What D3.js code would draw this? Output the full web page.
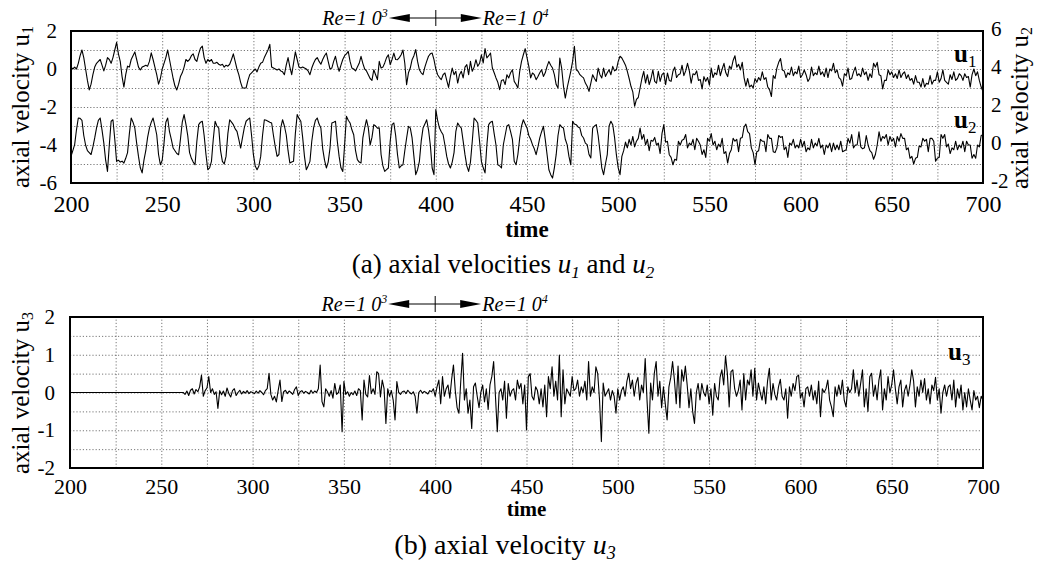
<!DOCTYPE html>
<html>
<head>
<meta charset="utf-8">
<script src="https://cdn.jsdelivr.net/npm/d3@7"></script>
<style>
  body { margin: 0; background: #fff; }
  svg text { font-family: "Liberation Serif", "Times New Roman", Times, "DejaVu Serif", serif; fill: #000; }
  .grid line { stroke: #555; stroke-width: 0.8; stroke-dasharray: 1.2, 2; }
  .grid path { display: none; }
</style>
</head>
<body>
<div id="chart"></div>
<script>
var width = 1037, height = 570;
var serifFont = "'Liberation Serif', 'Times New Roman', Times, 'DejaVu Serif', serif";

// time axis: one sample per time unit from 200 to 700
var tStart = 200, tStep = 1;
var timeTicks = [200, 250, 300, 350, 400, 450, 500, 550, 600, 650, 700];
var u1Ticks = [2, 0, -2, -4, -6];
var u2Ticks = [6, 4, 2, 0, -2];
var u3Ticks = [2, 1, 0, -1, -2];
var reSwitch = 400;

// axial velocity u1 (left axis, upper panel)
var u1 = [
  0.1, 0.0, 0.1, 0.0, 0.3, 0.7, 1.0, 0.6, 0.0, -0.6,
  -1.1, -0.8, -0.3, 0.1, 0.3, 0.4, 0.5, 0.2, -0.1, 0.2,
  0.6, 0.5, 0.3, 0.6, 1.0, 1.4, 0.8, 0.4, -0.4, -0.95,
  -0.3, 0.15, 0.1, 0.5, 0.7, 0.9, 0.5, 0.1, -0.05, 0.1,
  0.15, 0.2, 0.15, 0.4, 0.85, 0.5, 0.1, -0.3, -0.8, -0.5,
  0.0, 0.3, 0.6, 1.0, 0.5, 0.0, -0.5, -0.9, -1.1, -0.8,
  -0.4, -0.2, 0.1, 0.5, 0.4, 0.5, 0.7, 0.8, 0.5, 0.4,
  0.8, 1.1, 1.2, 0.6, 0.3, 0.5, 0.4, 0.5, 0.3, 0.3,
  0.35, 0.25, 0.2, 0.25, 0.1, 0.2, 0.15, 0.25, 0.5, 0.8,
  0.4, 0.0, -0.3, -0.7, -1.0, -1.0, -1.0, -0.6, -0.3, -0.2,
  -0.1, 0.0, -0.15, 0.1, 0.3, 0.35, 0.6, 0.8, 1.0, 1.3,
  0.1, 0.05, 0.0, -0.05, 0.0, -0.1, -0.15, -0.3, 0.2, 0.6,
  0.1, -0.3, 0.3, 0.9, 0.5, 0.1, 0.05, 0.1, 0.05, 0.0,
  -0.1, -0.3, 0.05, 0.3, 0.5, 0.6, 0.4, 0.25, 0.5, 0.7,
  0.84, 0.4, 0.0, 0.05, 0.4, 0.67, 0.2, -0.12, 0.2, 0.5,
  0.7, 0.8, 0.93, 0.4, 0.05, 0.0, -0.1, 0.1, 0.3, 0.67,
  0.3, 0.0, -0.1, -0.3, -0.5, -0.6, -0.04, -0.3, -0.56, 0.4,
  0.05, 0.1, 0.32, 0.6, 0.75, 0.23, 0.5, 0.84, 0.5, 0.49,
  0.6, 0.75, 1.0, 0.3, -0.82, -0.2, 0.05, 0.49, 0.7, 1.02,
  0.4, -0.04, -0.2, -0.3, 0.1, 0.4, 0.67, 0.8, 0.84, 0.49,
  0.0, -0.3, -0.45, -0.56, -0.3, -0.21, -0.6, -0.97, -0.4, 0.05,
  -0.3, -0.12, -0.74, -0.3, -0.12, -0.47, 0.1, 0.23, -0.3, 0.4,
  -0.12, 0.1, 0.49, 0.14, 0.3, 0.75, 0.32, 1.07, 0.58, 0.7,
  0.84, 0.05, -0.2, -0.47, -0.7, -1.09, -0.6, -0.56, -0.82, -0.3,
  -0.47, -0.2, -0.04, -0.65, -0.8, -1.0, -0.12, 0.4, 0.75, 1.07,
  0.6, 0.14, -0.47, -0.21, -0.3, -0.56, -0.39, -0.2, -0.04, -0.39,
  -0.2, 0.14, 0.4, 0.2, 0.05, -0.3, -0.82, -1.0, 0.58, 0.05,
  -0.91, -1.53, -1.0, -0.56, -0.12, 0.4, 1.19, -0.04, -0.12, -0.3,
  -0.39, -0.47, -0.74, -0.91, -1.18, -0.74, -0.3, -0.5, -0.65, 0.05,
  -0.3, -0.47, 0.05, -0.39, -0.2, -0.04, -0.3, 0.14, -0.1, -0.04,
  0.4, 0.67, 0.58, 0.4, 0.2, -0.12, -0.5, -0.91, -1.2, -1.96,
  -1.6, -1.5, -1.0, -0.5, -0.12, -0.74, -0.3, -0.82, -0.5, -0.04,
  -0.65, -0.74, -0.12, -0.65, -0.3, -0.2, -0.82, -0.21, -0.6, -0.65,
  -0.12, 0.1, -0.45, -0.3, -0.25, 0.2, -0.35, -0.1, 0.3, -0.1,
  -0.75, -0.25, -0.3, -0.1, -0.6, -0.55, -1.05, -0.4, -0.65, -0.45,
  -0.85, 0.05, -0.45, -0.2, -0.3, 0.2, -0.35, 0.0, 0.3, -0.2,
  -0.4, 0.15, 0.0, 0.45, 0.7, 0.1, 0.25, -0.05, 0.35, -0.45,
  -0.9, -0.5, -0.95, -0.85, -1.0, -0.5, -0.7, -0.45, -0.6, -0.15,
  -0.55, -0.45, -0.95, -1.1, -1.45, -0.35, -0.5, 0.05, 0.35, 0.55,
  -0.05, -0.1, -0.45, -0.2, -0.3, 0.1, -0.35, -0.15, -0.25, 0.15,
  -0.45, -0.3, -0.05, -0.3, -0.65, -0.5, 0.1, -0.35, -0.2, -0.3,
  0.15, -0.3, -0.15, -0.4, 0.05, -0.45, 0.0, -0.1, 0.3, -0.2,
  -0.05, -0.45, -0.55, -0.9, -0.25, -0.35, 0.05, -0.55, -0.5, -0.15,
  0.1, -0.35, -0.25, -0.4, 0.05, -0.3, -0.15, -0.6, -0.25, -0.45,
  0.3, 0.1, 0.35, -0.3, -0.35, -1.05, -0.6, -0.6, -0.05, -0.3,
  -0.15, -0.45, -0.25, -0.5, -0.05, -0.45, -0.25, -0.15, -0.5, -0.3,
  -0.6, -0.5, -0.8, -0.35, -0.7, -0.7, -0.95, -0.5, -0.95, -0.75,
  -0.8, -0.35, -0.8, -0.6, -0.6, -0.15, -0.7, -0.5, -0.05, -0.6,
  -0.7, -0.8, -0.3, -0.55, -0.15, -0.6, -0.5, -0.25, -0.35, -0.6,
  -0.25, -0.45, -0.4, -0.95, -0.3, 0.0, -0.35, -0.15, -0.6, -0.95,
  -1.18
];

// axial velocity u2 (right axis, upper panel)
var u2 = [
  -0.6, -0.3, 0.02, 0.8, 1.42, 1.4, 1.3, 0.5, 0.0, -0.3,
  -0.4, -0.5, -0.1, 0.37, 0.9, 1.3, 1.42, 0.8, 0.1, -0.8,
  -1.39, 0.0, 1.25, 1.33, 0.3, -0.86, -0.8, -0.9, -0.85, -0.95,
  -0.7, -0.4, 0.6, 1.42, 1.2, 0.89, 0.1, -0.6, -1.2, -1.47,
  -0.8, -0.3, 0.4, 0.89, 1.2, 1.42, 1.0, 0.54, -0.5, -1.04,
  -0.8, 0.1, 1.2, 1.42, 0.7, 0.3, -0.16, -0.3, -0.45, -0.51,
  0.3, 1.2, 1.6, 1.1, 0.5, -0.4, -0.7, -0.9, -1.04, 0.2,
  1.07, 1.2, 1.25, 0.5, -0.5, -1.3, -1.2, -0.86, 0.3, 1.25,
  1.0, 0.89, -0.3, -0.86, -1.0, -0.6, 0.6, 1.33, 1.2, 1.07,
  0.85, 0.72, 0.3, -0.16, 0.37, 0.9, 1.25, 1.35, 1.42, 0.5,
  -0.51, -1.1, -1.3, -1.1, -0.6, 0.5, 1.33, 1.3, 1.25, 1.2,
  1.16, 0.5, -0.1, -0.6, -0.5, 0.9, 1.33, 1.0, 0.54, -0.3,
  -0.95, -0.9, -0.86, 0.6, 1.6, 1.4, 1.25, 0.4, -0.6, -1.3,
  -1.1, -0.86, 0.2, 0.9, 1.3, 1.42, 1.1, 0.89, -0.2, -0.8,
  -1.21, -0.9, -0.16, 1.16, 1.2, 1.25, 0.2, -0.6, -1.2, -1.39,
  0.0, 1.51, 1.3, 1.16, 0.8, 0.54, -0.3, -0.77, -0.9, -0.95,
  0.37, 0.9, 1.33, 0.9, 0.0, 0.4, 1.07, 1.0, 0.89, 0.9,
  -0.5, -1.1, -1.39, -1.3, -1.21, 0.2, 1.07, 1.16, 0.5, -0.5,
  -1.21, -1.1, -1.04, -0.3, 0.37, 0.98, 0.9, 0.37, -0.6, -1.56,
  -1.3, -0.86, 0.2, 0.89, 1.1, 1.33, 0.8, 0.0, -1.21, -1.56,
  1.86, 1.3, 0.89, 0.7, 0.54, 0.0, -0.6, -1.0, -1.21, -0.9,
  -0.4, 0.72, 1.16, 1.0, 0.89, 0.2, -0.51, -1.1, -1.39, -0.9,
  0.2, 1.42, 1.3, 1.16, 0.2, -0.86, -1.2, -1.47, 0.0, 1.07,
  1.2, 1.25, 0.6, 0.0, -1.04, -1.1, -1.21, 0.0, 0.5, 1.0,
  1.07, 0.7, 0.3, -0.86, -1.04, -0.5, 0.37, 1.0, 1.33, 1.1,
  0.9, 0.5, 0.3, 0.02, -0.2, -0.51, -0.1, 0.37, 0.7, 0.98,
  0.3, -0.5, -1.3, -1.56, -1.74, -1.2, -0.51, 0.5, 1.07, 0.95,
  0.89, 0.3, 0.02, -0.6, -1.04, 1.25, 1.1, 1.07, 0.95, 0.89,
  0.5, 0.37, 0.1, 0.02, -0.5, -0.68, 0.89, 1.0, 1.07, 0.5,
  -0.33, -1.2, -1.56, -1.0, -0.51, 1.0, 1.25, 1.07, 0.4, -0.51,
  -1.2, -1.56, -0.6, -0.3, 0.15, -0.15, 0.3, 0.0, 0.45, -0.1,
  0.2, 0.35, 0.89, 0.3, 0.55, 0.0, 0.3, -0.3, 0.25, 0.2,
  0.4, 0.0, 0.1, -0.45, 0.6, 1.07, 0.15, 0.2, -0.51, -0.65,
  -1.04, -0.75, -0.8, 0.2, 0.0, 0.25, 0.3, 0.55, -0.15, 0.1,
  0.0, 0.3, -0.25, 0.35, 0.2, 0.0, -0.5, -0.25, -0.65, 0.35,
  0.2, 0.6, 0.0, 0.2, -0.25, 0.05, -0.1, 0.35, -0.45, -0.35,
  -0.95, -0.45, -0.25, 0.35, 0.2, 0.3, -0.35, 0.35, 0.4, 0.95,
  1.1, 0.7, 0.6, -0.15, -0.4, -1.04, -0.35, -0.3, 0.3, 0.2,
  0.2, -0.35, 0.55, 0.35, 0.35, -0.35, -0.4, -0.15, 0.5, 0.4,
  0.45, -0.25, -0.1, -0.65, 0.1, 0.0, 0.3, -0.15, 0.0, -0.15,
  0.3, -0.1, 0.2, -0.35, -0.15, -0.25, 0.3, -0.15, 0.1, -0.05,
  0.35, -0.15, 0.0, -0.5, 0.0, -0.15, 0.1, -0.35, 0.1, -0.25,
  0.0, -0.25, 0.2, -0.35, -0.3, -0.25, 0.35, 0.1, 0.55, -0.15,
  0.0, 0.0, 0.7, -0.1, -0.2, -0.15, 0.5, 0.0, -0.3, -0.4,
  -0.75, -0.5, 0.0, 0.7, 0.2, 0.45, 0.35, 0.55, 0.0, 0.45,
  0.2, 0.35, -0.1, 0.45, 0.2, 0.6, 0.35, 0.35, -0.25, -0.15,
  -0.7, -0.6, -1.0, -0.7, -0.65, -0.05, -0.1, 0.35, 0.2, 0.3,
  -0.35, 0.35, 0.35, 0.2, -0.85, -0.7, -0.65, 0.55, 0.35, 0.55,
  -0.1, 0.05, -0.45, -0.15, -0.25, 0.2, -0.25, 0.0, -0.15, 0.2,
  -0.35, 0.2, 0.0, 0.0, -0.7, -0.5, -0.7, 0.0, -0.1, 0.5,
  0.54
];

// axial velocity u3 (lower panel)
var u3 = [
  0, 0, 0, 0, 0, 0, 0, 0, 0, 0,
  0, 0, 0, 0, 0, 0, 0, 0, 0, 0,
  0, 0, 0, 0, 0, 0, 0, 0, 0, 0,
  0, 0, 0, 0, 0, 0, 0, 0, 0, 0,
  0, 0, 0, 0, 0, 0, 0, 0, 0, 0,
  0, 0, 0, 0, 0, 0, 0, 0, 0, 0,
  0, 0, 0.0, -0.05, 0.04, -0.08, 0.06, 0.1, -0.04, 0.08,
  0.02, 0.15, 0.46, -0.1, 0.05, 0.12, 0.42, 0.0, 0.1, -0.05,
  0.02, -0.42, 0.05, -0.06, 0.04, -0.1, 0.12, -0.03, -0.12, 0.05,
  0.1, -0.08, 0.0, 0.06, -0.04, 0.03, -0.02, 0.05, -0.03, 0.02,
  0.0, -0.03, 0.04, -0.02, 0.05, 0.0, -0.06, 0.05, 0.1, 0.51,
  -0.05, -0.2, -0.1, -0.25, 0.05, 0.33, -0.24, 0.02, 0.06, -0.03,
  0.04, 0.0, -0.05, 0.08, 0.15, -0.08, 0.02, 0.05, -0.02, 0.03,
  0.0, -0.04, 0.06, -0.02, 0.04, 0.0, 0.1, 0.73, -0.24, -0.38,
  0.1, 0.02, -0.1, 0.05, -0.15, 0.24, -0.05, 0.0, 0.2, -1.04,
  0.29, -0.05, 0.02, -0.1, 0.0, -0.06, 0.04, -0.08, 0.1, 0.05,
  -0.73, 0.33, -0.05, -0.12, 0.45, -0.03, 0.1, -0.05, 0.55, 0.5,
  -0.12, 0.33, 0.1, -0.82, 0.1, -0.1, 0.05, -0.2, -0.73, 0.29,
  0.0, -0.05, 0.02, 0.04, -0.03, 0.06, 0.0, -0.04, 0.02, -0.1,
  -0.55, 0.0, 0.06, -0.02, 0.03, 0.0, -0.04, 0.05, 0.02, 0.1,
  -0.1, 0.15, 0.33, -0.3, 0.42, -0.1, 0.1, 0.2, -0.15, 0.35,
  0.73, 0.05, -0.4, -0.55, 0.3, 1.04, -0.2, 0.1, -0.55, -0.2,
  -0.95, 0.15, 0.25, -0.1, -0.4, 0.0, 0.2, -0.25, 0.1, -0.45,
  0.2, 0.42, 0.82, -0.1, -1.04, 0.0, 0.1, -0.2, 0.3, -0.68,
  0.24, -0.1, 0.05, 0.1, -0.2, 0.33, 0.1, 0.24, -0.3, 0.2,
  -0.99, 0.42, 0.5, -0.1, -0.2, 0.15, 0.05, -0.3, 0.1, -0.38,
  0.2, -0.64, 0.42, 0.1, 0.68, -0.1, 0.3, -0.2, 0.99, -0.64,
  0.6, -0.3, 0.1, 0.0, -0.1, 0.42, 0.05, 0.1, 0.33, -0.1,
  0.15, 0.0, 0.3, -0.2, 0.82, -0.1, 0.15, 0.0, 0.68, 0.5,
  -0.2, -1.3, 0.25, -0.1, 0.0, 0.1, -0.2, 0.05, -0.1, -0.55,
  0.1, -0.2, 0.05, 0.15, -0.1, 0.3, 0.51, 0.1, 0.33, -0.1,
  0.25, 0.4, -0.2, 0.2, 0.0, 0.9, -0.2, -1.08, 0.25, -0.2,
  0.51, 0.82, -0.1, 0.3, -0.4, 0.15, -0.3, -0.73, 0.15, 0.4,
  0.82, 0.33, -0.3, 0.7, -0.4, 0.6, 0.3, 0.7, 0.2, -0.4,
  0.1, -0.5, -0.82, 0.0, 0.24, -0.2, 0.24, 0.0, -0.1, 0.2,
  -0.3, 0.1, -0.6, 0.24, -0.1, -0.2, 0.4, 0.6, 0.2, 0.97,
  0.5, -0.38, 0.55, 0.6, 0.1, -0.1, 0.05, 0.33, -0.46, 0.5,
  -0.2, 0.33, 0.2, 0.6, -0.1, 0.64, -0.2, 0.25, 0.0, -0.2,
  0.15, -0.3, 0.3, 0.64, -0.2, 0.24, -0.05, -0.2, 0.15, 0.35,
  -0.1, -0.2, 0.1, -0.68, 0.15, -0.1, 0.24, 0.05, 0.42, 0.46,
  -0.15, 0.0, -0.38, 0.1, 0.15, -0.1, 0.2, -0.2, 0.05, -0.3,
  0.3, -0.64, 0.1, 0.0, 0.1, 0.33, -0.2, -0.38, -0.64, 0.15,
  -0.1, 0.2, -0.05, 0.33, -0.2, -0.38, 0.15, 0.0, 0.1, 0.6,
  0.0, 0.33, -0.1, 0.24, 0.6, -0.38, 0.1, -0.5, 0.42, 0.51,
  -0.1, 0.2, -0.2, 0.33, 0.6, -0.46, 0.1, -0.2, 0.42, 0.0,
  0.2, 0.6, 0.1, -0.3, 0.15, 0.33, -0.38, 0.05, 0.2, -0.1,
  0.2, 0.6, 0.3, -0.38, 0.15, -0.1, 0.33, 0.0, 0.37, -0.2,
  0.1, -0.3, 0.2, 0.05, 0.4, -0.2, 0.1, -0.55, 0.0, 0.2,
  -0.1, 0.15, 0.2, -0.2, 0.33, -0.38, 0.1, -0.15, 0.2, -0.46,
  0.0, -0.38, 0.1, -0.2, -0.46, 0.05, -0.2, -0.1, -0.4, -0.1,
  -0.2
];

var svg = d3.select("#chart").append("svg")
    .attr("width", width)
    .attr("height", height)
    .attr("font-family", serifFont);

function timeOf(i) { return tStart + i * tStep; }
function plainNum(d) { return String(d); }

// one framed panel with dotted grid, returns scales
function drawPanel(box, yDomain, yGridStep) {
  var x = d3.scaleLinear().domain([200, 700]).range([box.left, box.right]);
  var y = d3.scaleLinear().domain(yDomain).range([box.bottom, box.top]);
  var h = box.bottom - box.top, w = box.right - box.left;

  svg.append("g").attr("class", "grid")
    .attr("transform", "translate(0," + box.bottom + ")")
    .call(d3.axisBottom(x).tickValues(d3.range(225, 700, 25)).tickSize(-h).tickFormat(""));
  svg.append("g").attr("class", "grid")
    .attr("transform", "translate(" + box.left + ",0)")
    .call(d3.axisLeft(y).tickValues(d3.range(yDomain[0] + yGridStep, yDomain[1], yGridStep)).tickSize(-w).tickFormat(""));
  return { x: x, y: y };
}

function drawSeries(values, x, y, sw) {
  var line = d3.line()
    .x(function(d, i) { return x(timeOf(i)); })
    .y(function(d) { return y(d); });
  svg.append("path")
    .datum(values)
    .attr("fill", "none")
    .attr("stroke", "#000")
    .attr("stroke-width", sw)
    .attr("stroke-linejoin", "round")
    .attr("d", line);
}

function drawFrame(box) {
  svg.append("rect")
    .attr("x", box.left).attr("y", box.top)
    .attr("width", box.right - box.left).attr("height", box.bottom - box.top)
    .attr("fill", "none").attr("stroke", "#000").attr("stroke-width", 2);
}

function tickLabels(axis, transform, size) {
  var g = svg.append("g").attr("transform", transform).call(axis.tickFormat(plainNum));
  g.attr("font-family", serifFont).attr("font-size", size);
  g.select(".domain").remove();
  g.selectAll("text").attr("fill", "#000");
  return g;
}

function yLabel(xb, yc, sub) {
  var t = svg.append("text")
    .attr("transform", "translate(" + xb + "," + yc + ") rotate(-90)")
    .attr("text-anchor", "middle")
    .style("font-size", "25px")
    .text("axial velocity u");
  t.append("tspan").attr("dy", 4).style("font-size", "16px").text(sub);
}

function reAnnotation(x, yb) {
  var xs = x(reSwitch);
  var ya = yb - 7;
  var left = svg.append("text").attr("x", xs - 48).attr("y", yb)
    .attr("text-anchor", "end")
    .style("font-style", "italic").style("font-size", "20px")
    .text("Re=1 0");
  left.append("tspan").attr("dy", -8).style("font-size", "12px").text("3");

  svg.append("line").attr("x1", xs - 27).attr("x2", xs + 26)
    .attr("y1", ya).attr("y2", ya).attr("stroke", "#000").attr("stroke-width", 1);
  svg.append("line").attr("x1", xs).attr("x2", xs)
    .attr("y1", ya - 8).attr("y2", ya + 8).attr("stroke", "#000").attr("stroke-width", 1);
  svg.append("polygon")
    .attr("points", [[xs - 47, ya], [xs - 26, ya - 4], [xs - 26, ya + 4]].join(" "))
    .attr("fill", "#000");
  svg.append("polygon")
    .attr("points", [[xs + 46, ya], [xs + 25, ya - 4], [xs + 25, ya + 4]].join(" "))
    .attr("fill", "#000");

  var right = svg.append("text").attr("x", xs + 47).attr("y", yb)
    .style("font-style", "italic").style("font-size", "20px")
    .text("Re=1 0");
  right.append("tspan").attr("dy", -8).style("font-size", "12px").text("4");
}

function seriesLabel(xp, yb, sub) {
  var t = svg.append("text").attr("x", xp).attr("y", yb)
    .style("font-weight", "bold").style("font-size", "25px")
    .text("u");
  t.append("tspan").attr("dy", 5).style("font-size", "17px").style("font-weight", "normal").text(sub);
}

// ---------- panel (a) ----------
var boxA = { left: 71, right: 983, top: 31, bottom: 183 };
var pa = drawPanel(boxA, [-6, 2], 1);
var yRight = d3.scaleLinear().domain([-2, 6]).range([boxA.bottom, boxA.top]);

drawSeries(u1, pa.x, pa.y, 1.1);
drawSeries(u2, pa.x, yRight, 1.1);
drawFrame(boxA);

tickLabels(d3.axisLeft(pa.y).tickValues(u1Ticks).tickSize(0).tickPadding(14),
  "translate(" + boxA.left + ",0)", 21);
tickLabels(d3.axisRight(yRight).tickValues(u2Ticks).tickSize(0).tickPadding(8),
  "translate(" + boxA.right + ",-2)", 21);
tickLabels(d3.axisBottom(pa.x).tickValues(timeTicks).tickSize(0).tickPadding(12),
  "translate(0," + boxA.bottom + ")", 24);

svg.append("text").attr("x", pa.x(450)).attr("y", 237)
  .attr("text-anchor", "middle").style("font-weight", "bold").style("font-size", "23px")
  .text("time");

yLabel(29, 107, "1");
yLabel(1028, 108, "2");
seriesLabel(954, 62, "1");
seriesLabel(954, 128, "2");
reAnnotation(pa.x, 25);

var capA = svg.append("text").attr("x", 503).attr("y", 273)
  .attr("text-anchor", "middle").style("font-size", "27px")
  .text("(a) axial velocities ");
capA.append("tspan").style("font-style", "italic").text("u");
capA.append("tspan").attr("dy", 5).style("font-style", "italic").style("font-size", "17px").text("1");
capA.append("tspan").attr("dy", -5).text(" and ");
capA.append("tspan").style("font-style", "italic").text("u");
capA.append("tspan").attr("dy", 5).style("font-style", "italic").style("font-size", "17px").text("2");

// ---------- panel (b) ----------
var boxB = { left: 70, right: 983, top: 317, bottom: 468 };
var pb = drawPanel(boxB, [-2, 2], 0.5);
drawSeries(u3, pb.x, pb.y, 1.1);
drawFrame(boxB);

tickLabels(d3.axisLeft(pb.y).tickValues(u3Ticks).tickSize(0).tickPadding(15),
  "translate(" + boxB.left + ",0)", 21);
tickLabels(d3.axisBottom(pb.x).tickValues(timeTicks).tickSize(0).tickPadding(10),
  "translate(0," + boxB.bottom + ")", 22);

svg.append("text").attr("x", pb.x(450)).attr("y", 516)
  .attr("text-anchor", "middle").style("font-weight", "bold").style("font-size", "21px")
  .text("time");

yLabel(29, 393, "3");
seriesLabel(948, 360, "3");
reAnnotation(pb.x, 311);

var capB = svg.append("text").attr("x", 505).attr("y", 554)
  .attr("text-anchor", "middle").style("font-size", "28px")
  .text("(b) axial velocity ");
capB.append("tspan").style("font-style", "italic").text("u");
capB.append("tspan").attr("dy", 5).style("font-style", "italic").style("font-size", "18px").text("3");
</script>
</body>
</html>
